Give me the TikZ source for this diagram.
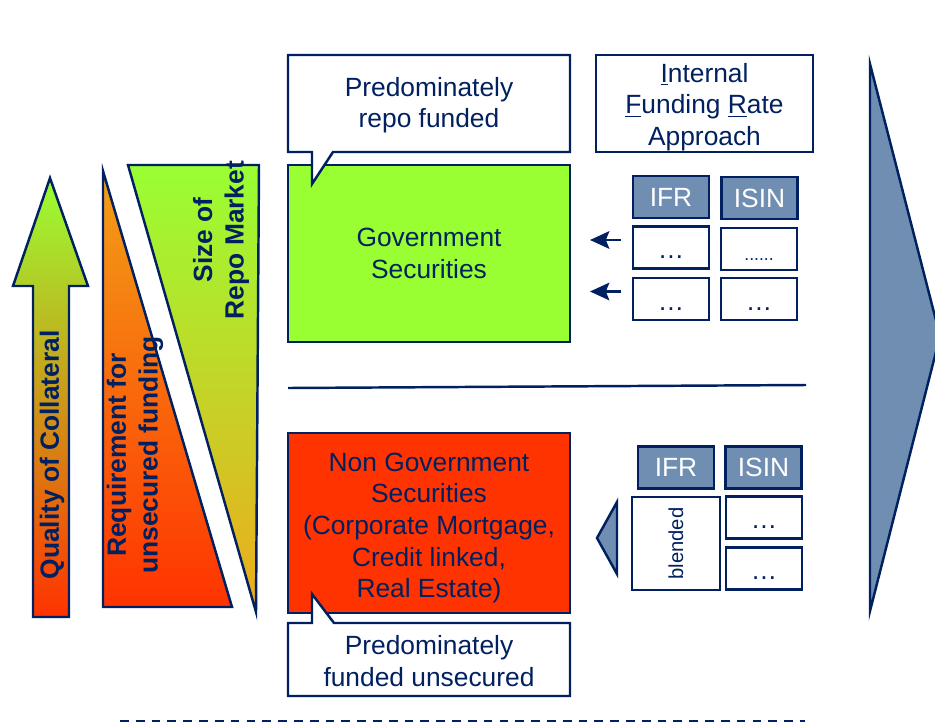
\documentclass[tikz,border=0pt]{standalone}
\usepackage{fontspec}
\setmainfont{Liberation Sans}
\usepackage{tikz}
\usetikzlibrary{arrows.meta}
\usepackage{xcolor}
\definecolor{SecNavy}{RGB}{0,32,96}
\definecolor{SecSteel}{RGB}{112,142,178}
\definecolor{SecGreen}{RGB}{153,255,51}
\definecolor{SecRed}{RGB}{255,51,0}
\definecolor{SecOrange}{RGB}{242,160,24}
\definecolor{SecAmber}{RGB}{238,170,28}
\definecolor{SecOlive}{RGB}{236,196,32}

\begin{document}
\begin{tikzpicture}[x=0.02cm, y=-0.02cm, font=\fontsize{15}{18}\selectfont, text=SecNavy]
  \tikzstyle{outline} = [draw=SecNavy, line width=1.4pt]
  \tikzstyle{box} = [outline, rectangle, align=center, inner sep=0pt]
  \tikzstyle{head} = [box, fill=SecSteel, text=white, minimum width=1.52cm, minimum height=0.84cm]
  \tikzstyle{cell} = [box, fill=white, minimum width=1.52cm, minimum height=0.84cm,
    text height=13pt, text depth=0pt]
  \tikzstyle{note} = [rectangle, align=center, inner sep=0pt]
  \tikzstyle{side} = [note, rotate=90, font=\bfseries\fontsize{15}{18}\selectfont]
  \tikzstyle{feed} = [draw=SecNavy, line width=1.4pt,
    -{Stealth[length=11pt, width=10pt, inset=2pt]}]

  \useasboundingbox (0,0) rectangle (935,723);

  % left hand indicators
  \shadedraw[outline, top color=SecGreen, middle color=SecOlive, bottom color=SecRed]
    (33,617) -- (33,286) -- (13,286) -- (50,178) -- (88,286) -- (69,286) -- (69,617) -- cycle;
  \node[side] (quality) at (52,455) {Quality of Collateral};

  \shadedraw[outline, top color=SecOrange, bottom color=SecRed]
    (103,171) -- (232,607) -- (103,607) -- cycle;
  \node[side] (unsecured) at (135,455) {Requirement for\\unsecured funding};

  \shadedraw[outline, top color=SecGreen, bottom color=SecAmber]
    (128,165) -- (259,165) -- (256,612) -- cycle;
  \node[side] (repomkt) at (221,240) {Size of\\Repo Market};

  % government securities
  \node[box, fill=SecGreen, minimum width=5.64cm, minimum height=3.54cm] (gov)
    at (429,253.5) {Government\\Securities};
  \filldraw[outline, fill=white] (288,55) -- (570,55) -- (570,152) -- (333,152)
    -- (312,184) -- (312,152) -- (288,152) -- cycle;
  \node[note] (repo) at (429,105) {Predominately\\repo funded};

  \node[box, fill=white, minimum width=4.34cm, minimum height=1.94cm] (ifra)
    at (704.5,103.5) {};
  \node[note] (ifratext) at (704.5,107) {\underline{I}nternal\\\underline{F}unding \underline{R}ate\\Approach};

  \node[head] (ifr1) at (671,197) {IFR};
  \node[head] (isin1) at (759.5,198) {ISIN};
  \foreach \r/\y in {1/247.5, 2/299} {
    \node[cell] (ifr1-\r) at (671,\y) {…};
    \coordinate (src\r) at (621,\y-7.5);
    \coordinate (dst\r) at (590,\y-7.5);
    \draw[feed] (src\r) -- (dst\r);
  }
  \node[cell, font=\fontsize{10}{12}\selectfont] (isin1-1) at (759,249) {......};
  \node[cell] (isin1-2) at (759,299) {…};

  \draw[SecNavy, line width=1.4pt] (288,388) -- (806,385);

  % non government securities
  \node[box, fill=SecRed, minimum width=5.64cm, minimum height=3.6cm] (nongov)
    at (429,523) {};
  \node[note] (nongovtext) at (429,528)
    {Non Government\\Securities\\(Corporate Mortgage,\\Credit linked,\\Real Estate)};
  \filldraw[outline, fill=white] (288,623) -- (312,623) -- (312,594) -- (334,623)
    -- (570,623) -- (570,696) -- (288,696) -- cycle;
  \node[note] (unsec) at (429,661) {Predominately\\funded unsecured};

  \node[head] (ifr2) at (676,467.5) {IFR};
  \node[head] (isin2) at (763.5,467.5) {ISIN};
  \node[box, fill=white, rotate=90, minimum width=1.86cm, minimum height=1.76cm,
    font=\fontsize{11.5}{14}\selectfont] (blend) at (676,543.5) {blended};
  \node[cell] (isin2-1) at (764,517.5) {…};
  \node[cell] (isin2-2) at (764,568.5) {…};
  \filldraw[outline, fill=SecSteel] (617,502) -- (597,538) -- (617,574) -- cycle;

  % large arrow on the right
  \filldraw[outline, fill=SecSteel] (870,64) -- (940,336) -- (870,611) -- cycle;

  \draw[SecNavy, line width=1.2pt, dash pattern=on 5pt off 4pt] (120,721) -- (805,721);
\end{tikzpicture}
\end{document}
